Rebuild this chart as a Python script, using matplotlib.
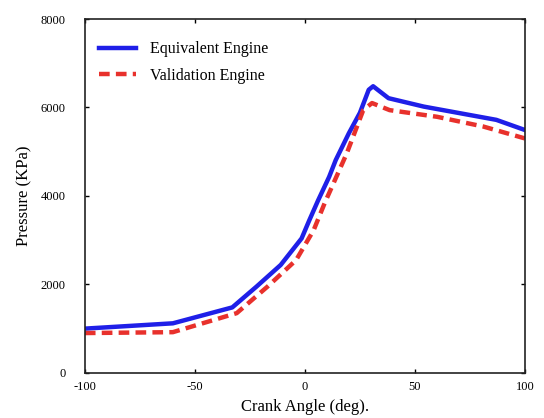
#!/usr/bin/env python3
"""Cylinder pressure vs crank angle: equivalent engine vs validation engine."""
import matplotlib
matplotlib.use("Agg")
import matplotlib.pyplot as plt

# values
equiv_angle = [-100, -80, -60, -33, -22, -11, -1.5, 2, 6, 11, 14, 20, 25, 29, 31, 38, 54, 87, 100]
equiv_press = [1000, 1060, 1120, 1480, 1950, 2440, 3040, 3450, 3900, 4430, 4810, 5420, 5880,
               6400, 6480, 6210, 6020, 5720, 5490]

valid_angle = [-100, -60, -31, -17, -4, 4, 9, 19, 26.5, 30.5, 38.5, 60, 81, 100]
valid_press = [900, 920, 1350, 1950, 2550, 3230, 3840, 4960, 5940, 6100, 5940, 5790, 5570, 5300]

x_ticks = [-100, -50, 0, 50, 100]
y_ticks = [0, 2000, 4000, 6000, 8000]

plt.rcParams['font.family'] = ['Liberation Serif', 'DejaVu Serif']
plt.rcParams['axes.unicode_minus'] = False

fig = plt.figure(figsize=(5.44, 4.18), dpi=100)
ax = fig.add_axes([0.156, 0.108, 0.809, 0.8465])

ax.plot(equiv_angle, equiv_press, color='#1f1fe8', lw=3.2, label='Equivalent Engine')
ax.plot(valid_angle, valid_press, color='#e8312c', lw=3.2, dashes=(2.4, 1.4),
        label='Validation Engine')

ax.set_xlim(-100, 100)
ax.set_ylim(0, 8000)
ax.set_xticks(x_ticks)
ax.set_yticks(y_ticks)
ax.tick_params(direction='in', length=3, width=1, top=True, right=True, labelsize=9)
ax.tick_params(axis='y', pad=14)
ax.tick_params(axis='x', pad=6)

for spine in ax.spines.values():
    spine.set_linewidth(1.2)
    spine.set_color('#222222')

ax.set_xlabel('Crank Angle (deg).', fontsize=12, labelpad=4)
ax.set_ylabel('Pressure (KPa)', fontsize=12, labelpad=6)

ax.legend(loc='upper left', bbox_to_anchor=(0.0, 0.978), frameon=False, fontsize=11.5,
          handlelength=2.3, handletextpad=0.9, labelspacing=0.65)

plt.savefig('out.png', dpi=100)
